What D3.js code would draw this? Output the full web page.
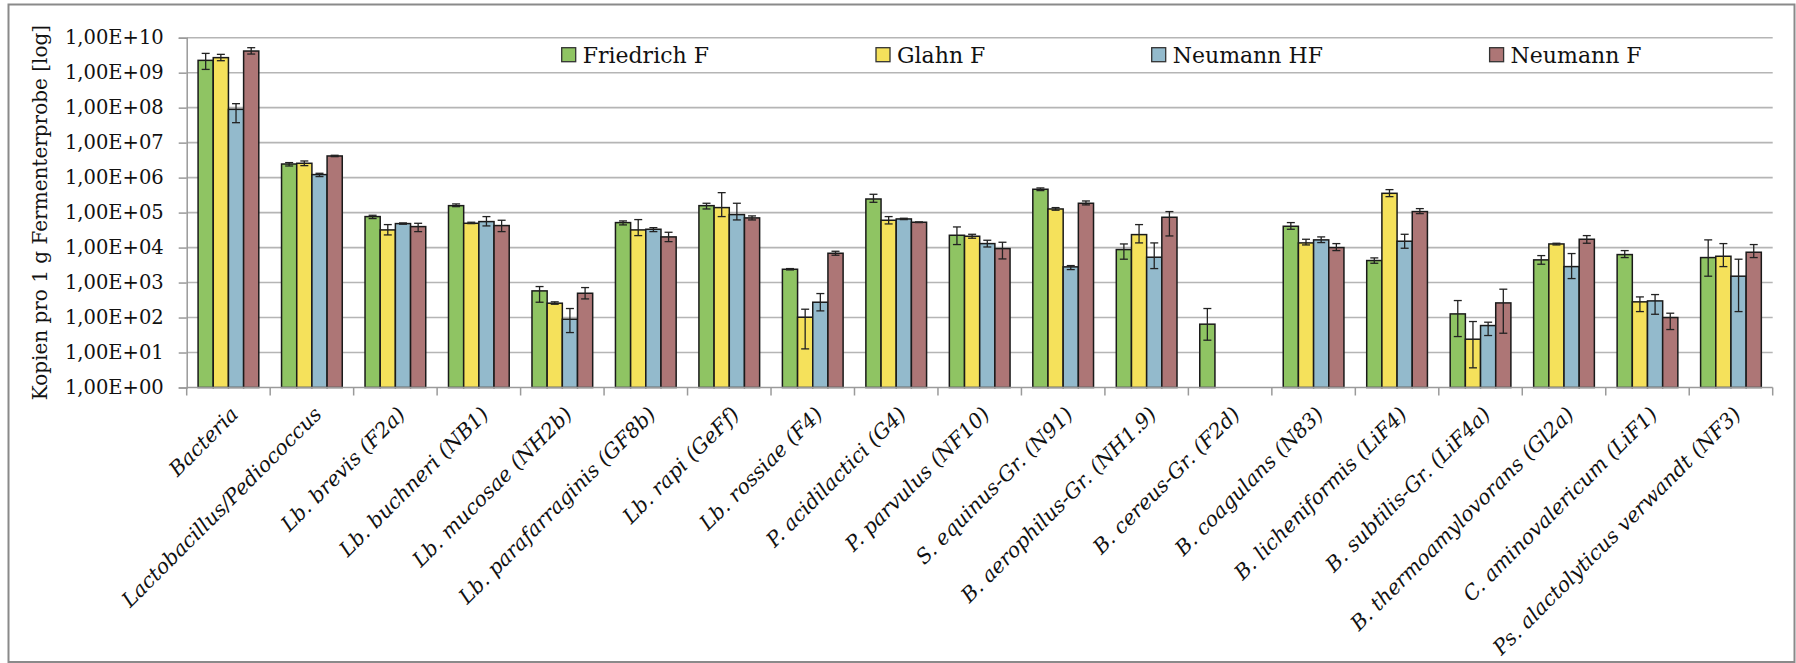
<!DOCTYPE html>
<html><head><meta charset="utf-8">
<script src="https://cdn.jsdelivr.net/npm/d3@7"></script>
<style>body{margin:0;background:#fff} svg{display:block}</style>
</head><body>
<svg id="c" width="1796" height="663"></svg>
<script>
const categories = ["Bacteria","Lactobacillus/Pediococcus","Lb. brevis (F2a)","Lb. buchneri (NB1)","Lb. mucosae (NH2b)","Lb. parafarraginis (GF8b)","Lb. rapi (GeFf)","Lb. rossiae (F4)","P. acidilactici (G4)","P. parvulus (NF10)","S. equinus-Gr. (N91)","B. aerophilus-Gr. (NH1.9)","B. cereus-Gr. (F2d)","B. coagulans (N83)","B. licheniformis (LiF4)","B. subtilis-Gr. (LiF4a)","B. thermoamylovorans (Gl2a)","C. aminovalericum (LiF1)","Ps. alactolyticus verwandt (NF3)"];
const seriesNames = ["Friedrich F","Glahn F","Neumann HF","Neumann F"];
const seriesColors = ["#8fc463","#f5e15b","#93bacc","#ad7676"];

// mean values
const friedrichF = [2.25e9,2.45e6,7.69e4,1.58e5,578,5.18e4,1.58e5,2.40e3,2.45e5,2.25e4,4.65e5,8.77e3,64.6,4.07e4,4.26e3,127,4.45e3,6.31e3,5.18e3];
const glahnF     = [2.69e9,2.57e6,3.20e4,4.95e4,257,3.20e4,1.39e5,102,6.04e4,2.11e4,1.27e5,2.35e4,null,1.36e4,3.56e5,24.0,1.27e4,281,5.65e3];
const neumannHF  = [8.95e7,1.22e6,4.85e4,5.53e4,89.5,3.34e4,8.77e4,274,6.59e4,1.30e4,2.81e3,5.30e3,null,1.66e4,1.52e4,59.0,2.86e3,299,1.52e3];
const neumannF   = [4.16e9,4.16e6,3.98e4,4.26e4,495,2.02e4,7.05e4,6.89e3,5.30e4,9.35e3,1.85e5,7.36e4,null,1.00e4,1.07e5,262,1.73e4,100,7.36e3];
// error bar upper ends
const friedrichFHi = [3.56e9,2.69e6,8.39e4,1.77e5,769,5.78e4,1.85e5,2.51e3,3.34e5,3.89e4,5.07e5,1.27e4,181,5.18e4,5.07e3,306,5.90e3,8.20e3,1.66e4];
const glahnFHi     = [3.34e9,2.99e6,4.54e4,5.30e4,281,6.31e4,3.72e5,173,7.69e4,2.40e4,1.39e5,4.54e4,null,1.73e4,4.54e5,76.9,1.33e4,389,1.30e4];
const neumannHFHi  = [1.30e8,1.33e6,5.07e4,7.69e4,181,3.72e4,1.85e5,485,6.89e4,1.62e4,3.06e3,1.36e4,null,2.02e4,2.40e4,73.6,6.75e3,454,4.65e3];
const neumannFHi   = [5.18e9,4.35e6,4.95e4,6.04e4,719,2.74e4,8.04e4,7.85e3,5.41e4,1.42e4,2.15e5,1.07e5,null,1.30e4,1.30e5,646,2.20e4,133,1.22e4];
// error bar lower ends
const friedrichFLo = [1.24e9,2.15e6,6.75e4,1.48e5,274,4.45e4,1.27e5,2.30e3,1.97e5,1.22e4,4.26e5,4.65e3,22.5,3.34e4,3.56e3,28.6,3.34e3,5.18e3,1.52e3];
const glahnFLo     = [2.20e9,2.20e6,2.30e4,4.85e4,240,2.20e4,7.69e4,12.7,4.74e4,1.85e4,1.17e5,1.36e4,null,1.19e4,2.86e5,3.65,1.19e4,148,2.86e3];
const neumannHFLo  = [3.72e7,1.07e6,4.65e4,4.16e4,37.2,2.86e4,6.17e4,155,6.31e4,1.04e4,2.35e3,2.51e3,null,1.39e4,9.57e3,30.6,1.30e3,124,148];
const neumannFLo   = [3.41e9,3.98e6,2.86e4,2.86e4,341,1.48e4,6.17e4,6.04e3,5.18e4,4.74e3,1.66e5,2.15e4,null,8.20e3,9.35e4,35.6,1.33e4,45.4,5.18e3];

const yTickValues = [1,1e1,1e2,1e3,1e4,1e5,1e6,1e7,1e8,1e9,1e10];
const yTickLabels = ["1,00E+00","1,00E+01","1,00E+02","1,00E+03","1,00E+04","1,00E+05","1,00E+06","1,00E+07","1,00E+08","1,00E+09","1,00E+10"];
const yTitle = "Kopien pro 1 g Fermenterprobe [log]";

const values = [friedrichF, glahnF, neumannHF, neumannF];
const his = [friedrichFHi, glahnFHi, neumannHFHi, neumannFHi];
const los = [friedrichFLo, glahnFLo, neumannHFLo, neumannFLo];

const FONT = "'DejaVu Serif', serif";
const svg = d3.select("#c");
const plot = {left:186.7, right:1772.7, top:37.7, bottom:387.5};

// outer border
svg.append("rect").attr("x",8.5).attr("y",4.5).attr("width",1786).attr("height",657.5)
  .attr("fill","#fff").attr("stroke","#8a8a8a").attr("stroke-width",2);

const x = d3.scaleBand().domain(categories).range([plot.left, plot.right]).padding(0);
const bw = x.bandwidth()/5.5;
const xs = d3.scaleBand().domain(seriesNames).range([0.75*bw, 4.75*bw]).padding(0);
const y = d3.scaleLog().domain([1,1e10]).range([plot.bottom, plot.top]);

// gridlines
svg.append("g").selectAll("line").data(yTickValues.slice(1)).join("line")
  .attr("x1",plot.left).attr("x2",plot.right)
  .attr("y1",d=>y(d)).attr("y2",d=>y(d))
  .attr("stroke","#b5b5b5").attr("stroke-width",1.6);

// y axis
const yAxis = svg.append("g").attr("transform",`translate(${plot.left},0)`)
  .call(d3.axisLeft(y).tickValues(yTickValues).tickFormat((d,i)=>yTickLabels[i]).tickSize(8).tickPadding(15));
yAxis.select(".domain").attr("stroke","#9a9a9a").attr("stroke-width",1.5);
yAxis.selectAll(".tick line").attr("stroke","#9a9a9a").attr("stroke-width",1.5);
yAxis.selectAll("text").attr("font-family",FONT).attr("font-size",19.5).attr("fill","#111");

// y title
svg.append("text").attr("transform",`translate(40,${(plot.top+plot.bottom)/2}) rotate(-90)`)
  .attr("text-anchor","middle").attr("dy","0.35em")
  .attr("font-family",FONT).attr("font-size",20).attr("fill","#111").text(yTitle);

// bars
const groups = svg.append("g").selectAll("g").data(seriesNames).join("g");
groups.each(function(s, si){
  const g = d3.select(this);
  const data = categories.map((c,ci)=>({c, v:values[si][ci], hi:his[si][ci], lo:los[si][ci]})).filter(d=>d.v!=null);
  g.selectAll("rect").data(data).join("rect")
    .attr("x",d=>x(d.c)+xs(s)).attr("width",xs.bandwidth())
    .attr("y",d=>y(d.v)).attr("height",d=>y(1)-y(d.v))
    .attr("fill",seriesColors[si]).attr("stroke","#1a1a1a").attr("stroke-width",1.5);
  const eb = g.selectAll("g.eb").data(data).join("g").attr("class","eb")
    .attr("stroke","#222").attr("stroke-width",1.3);
  const cxp = d=>x(d.c)+xs(s)+xs.bandwidth()/2;
  eb.append("line").attr("x1",cxp).attr("x2",cxp).attr("y1",d=>y(d.hi)).attr("y2",d=>y(d.lo));
  eb.append("line").attr("x1",d=>cxp(d)-4).attr("x2",d=>cxp(d)+4).attr("y1",d=>y(d.hi)).attr("y2",d=>y(d.hi));
  eb.append("line").attr("x1",d=>cxp(d)-4).attr("x2",d=>cxp(d)+4).attr("y1",d=>y(d.lo)).attr("y2",d=>y(d.lo));
});

// x axis line and boundary ticks
const xAxis = svg.append("g");
xAxis.append("line").attr("x1",plot.left).attr("x2",plot.right).attr("y1",plot.bottom).attr("y2",plot.bottom)
  .attr("stroke","#9a9a9a").attr("stroke-width",1.5);
const bounds = categories.map(c=>x(c)).concat([x(categories[categories.length-1])+x.bandwidth()]);
xAxis.selectAll("line.t").data(bounds).join("line").attr("class","t")
  .attr("x1",d=>d).attr("x2",d=>d).attr("y1",plot.bottom).attr("y2",plot.bottom+8)
  .attr("stroke","#9a9a9a").attr("stroke-width",1.5);
xAxis.selectAll("text").data(categories).join("text")
  .attr("transform",c=>`translate(${x(c)+x.bandwidth()/2+6},${plot.bottom+23}) rotate(-45)`)
  .attr("text-anchor","end").attr("dy","0.35em")
  .attr("font-family",FONT).attr("font-style","italic").attr("font-size",20.5).attr("fill","#111")
  .text(c=>c);

// legend
const legendX = [561.7, 876, 1151.7, 1489.6];
const lg = svg.append("g").selectAll("g").data(seriesNames).join("g")
  .attr("transform",(d,i)=>`translate(${legendX[i]},47.7)`);
lg.append("rect").attr("width",14).attr("height",14)
  .attr("fill",(d,i)=>seriesColors[i]).attr("stroke","#333").attr("stroke-width",1.3);
lg.append("text").attr("x",21).attr("y",7).attr("dy","0.36em")
  .attr("font-family",FONT).attr("font-size",22).attr("fill","#111").text(d=>d);
</script>
</body></html>
